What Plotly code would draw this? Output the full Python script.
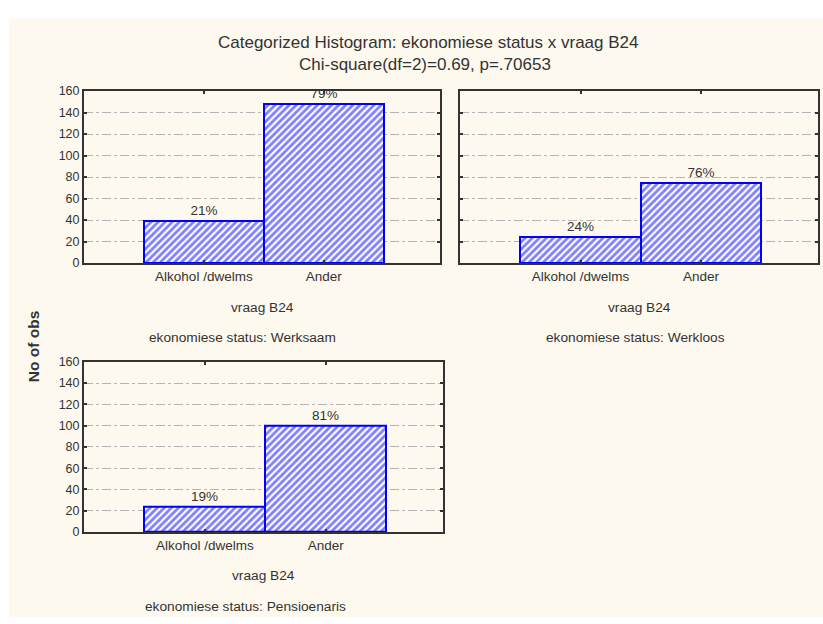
import plotly.graph_objects as go

# ---- data ----
categories = ["Alkohol /dwelms", "Ander"]
werksaam = [39, 148]
werkloos = [24, 74]
pensioenaris = [24, 100]
panel_titles = ["ekonomiese status: Werksaam", "ekonomiese status: Werkloos", "ekonomiese status: Pensioenaris"]
title_line1 = "Categorized Histogram: ekonomiese status x vraag B24"
title_line2 = "Chi-square(df=2)=0.69, p=.70653"
x_title = "vraag B24"
y_title = "No of obs"
y_ticks = [0, 20, 40, 60, 80, 100, 120, 140, 160]

W, H = 823, 624
FONT = "Liberation Sans, Arial, sans-serif"
TXT = "#333333"
BG = "#FEF9EE"

def pct(vals):
    t = sum(vals)
    return [f"{round(100 * v / t)}%" for v in vals]

def px_x(p):
    return p / W

def px_y(p):
    return 1 - p / H

fig = go.Figure()

panels = [
    (werksaam, "x", "y", (84, 440), (86, 262), True),
    (werkloos, "x2", "y2", (460, 818), (86, 262), False),
    (pensioenaris, "x3", "y3", (84, 443), (363, 537), True),
]

for vals, xa, ya, _, _, _ in panels:
    fig.add_trace(go.Bar(
        x=[0, 1], y=vals, width=1,
        text=pct(vals), textposition="outside", cliponaxis=False,
        textfont=dict(family=FONT, size=13.5, color=TXT),
        marker=dict(color="white",
                    line=dict(color="#0000FF", width=2),
                    pattern=dict(shape="/", fgcolor="#0000FF", bgcolor="white",
                                 size=5, solidity=0.55)),
        xaxis=xa, yaxis=ya, showlegend=False, hoverinfo="skip",
    ))

layout = dict(
    width=W, height=H,
    margin=dict(l=0, r=0, t=0, b=0),
    paper_bgcolor="white", plot_bgcolor="white",
    bargap=0,
    font=dict(family=FONT, size=13, color=TXT),
    shapes=[dict(type="rect", xref="paper", yref="paper",
                 x0=px_x(9), x1=1, y0=0, y1=px_y(12),
                 fillcolor=BG, line=dict(width=0), layer="below")],
)

for i, (vals, xa, ya, (x0, x1), (y0, y1), showy) in enumerate(panels):
    xk = "xaxis" if i == 0 else f"xaxis{i+1}"
    yk = "yaxis" if i == 0 else f"yaxis{i+1}"
    layout[xk] = dict(
        domain=[px_x(x0), px_x(x1)], anchor=ya,
        range=[-1, 1.97], tickmode="array", tickvals=[0, 1], ticktext=categories,
        showline=True, linecolor="#333333", linewidth=2, mirror="allticks",
        ticks="inside", ticklen=3, tickwidth=2, tickcolor="#333333",
        showgrid=False, zeroline=False, fixedrange=True,
        tickfont=dict(family=FONT, size=13.5, color=TXT),
    )
    layout[yk] = dict(
        domain=[px_y(y1), px_y(y0)], anchor=xa,
        range=[0, 160], tickmode="array", tickvals=y_ticks,
        showticklabels=showy,
        showline=True, linecolor="#333333", linewidth=2, mirror="allticks",
        ticks="inside", ticklen=3, tickwidth=2, tickcolor="#333333",
        showgrid=True, gridcolor="#B4B4B4", gridwidth=1, griddash="dashdot",
        zeroline=False, fixedrange=True,
        tickfont=dict(family=FONT, size=12.5, color=TXT),
    )

fig.update_layout(**layout)

def ann(text, x, y, size=13.7, bold=False, angle=0):
    fig.add_annotation(
        text=f"<b>{text}</b>" if bold else text,
        xref="paper", yref="paper", x=px_x(x), y=px_y(y),
        xanchor="center", yanchor="middle", showarrow=False, textangle=angle,
        font=dict(family=FONT, size=size, color=TXT),
    )

ann(title_line1, 428, 36, size=17)
ann(title_line2, 425, 59, size=17)
ann(x_title, 262, 307)
ann(x_title, 639, 307)
ann(x_title, 263, 582)
ann(panel_titles[0], 243, 338)
ann(panel_titles[1], 635, 338)
ann(panel_titles[2], 245, 613)
ann(y_title, 33, 348, size=15.5, bold=True, angle=-90)

fig.write_html("out.html", config={"displayModeBar": False},
               post_script="document.body.style.margin='0';document.body.style.overflow='hidden';")
